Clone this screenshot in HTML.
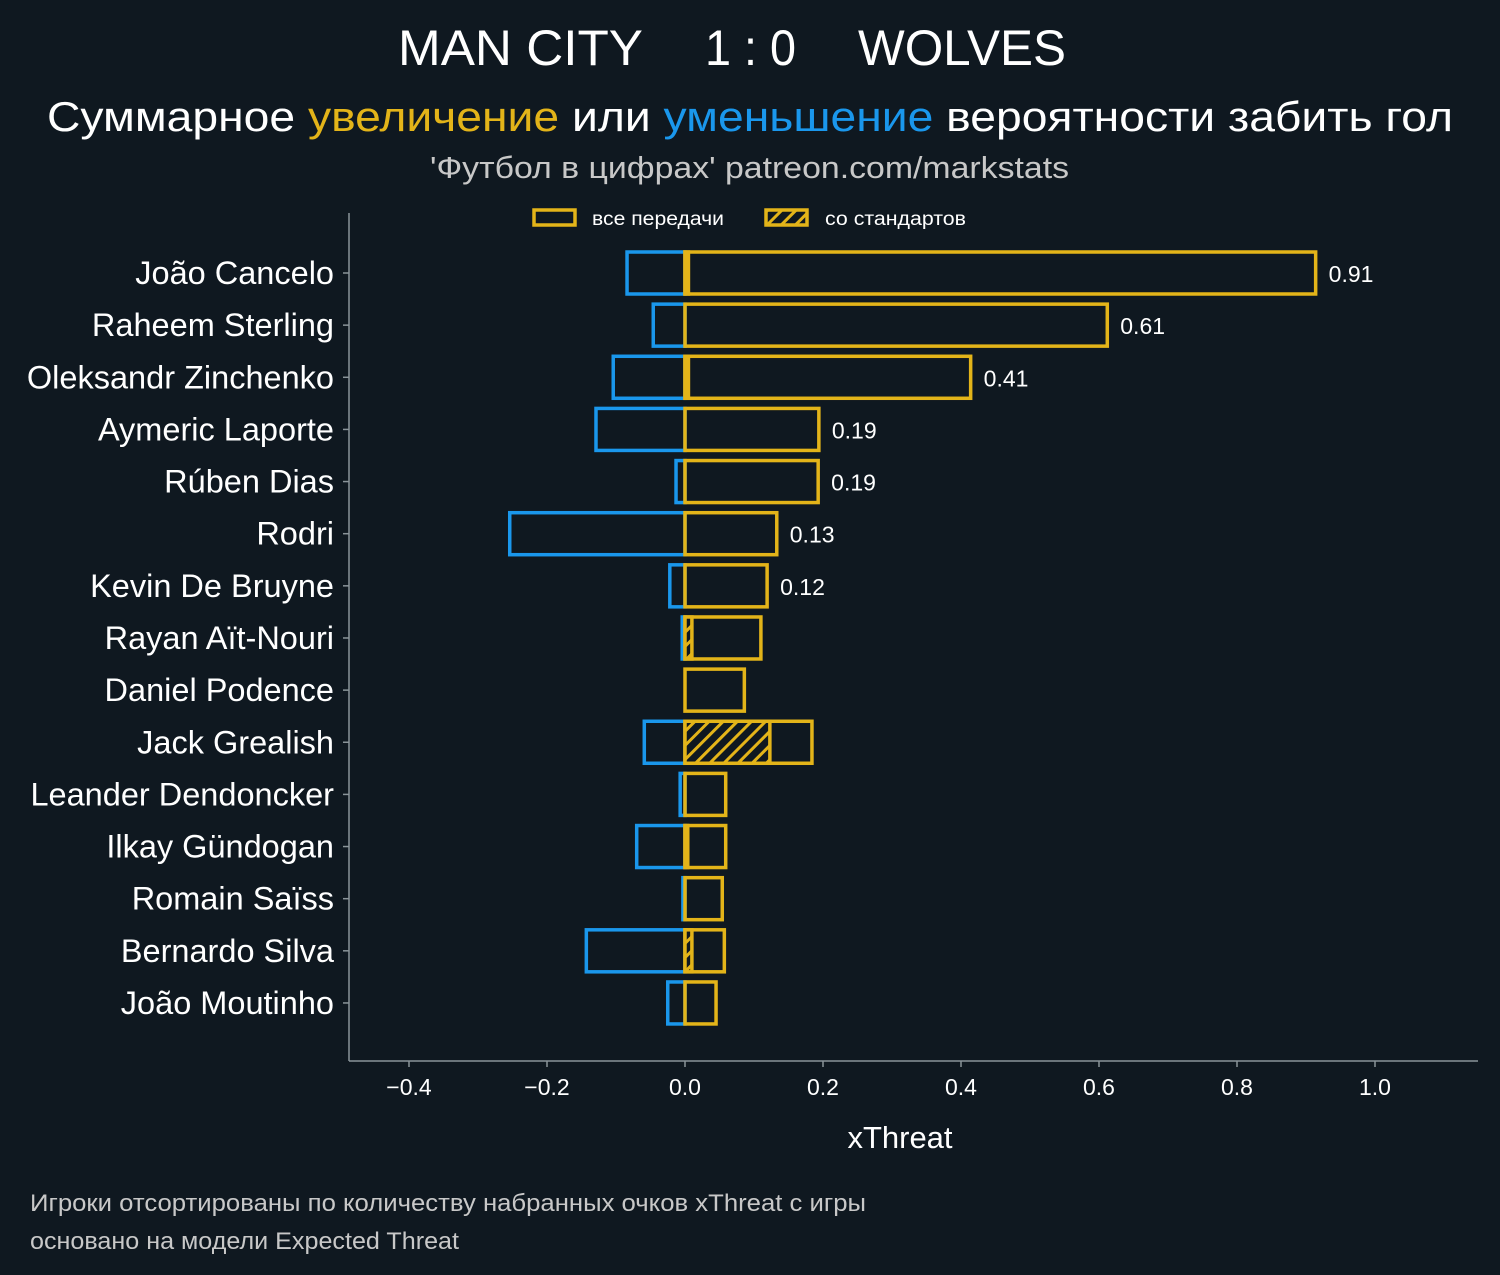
<!DOCTYPE html>
<html><head><meta charset="utf-8"><style>
body{margin:0;background:#0f1820;}
svg{display:block;font-family:"Liberation Sans","DejaVu Sans",sans-serif;}
</style></head><body>
<svg width="1500" height="1275" viewBox="0 0 1500 1275" xmlns="http://www.w3.org/2000/svg">
<defs><pattern id="hatch" width="10" height="10" patternUnits="userSpaceOnUse" patternTransform="rotate(45)"><rect width="10" height="10" fill="#0f1820"/><rect width="3" height="10" fill="#e3b419"/></pattern></defs>
<rect width="1500" height="1275" fill="#0f1820"/>
<g>
<text x="398" y="65" font-size="50" fill="#fff" textLength="245" lengthAdjust="spacingAndGlyphs">MAN CITY</text>
<text x="705" y="65" font-size="50" fill="#fff" textLength="91" lengthAdjust="spacingAndGlyphs">1 : 0</text>
<text x="858" y="65" font-size="50" fill="#fff" textLength="208" lengthAdjust="spacingAndGlyphs">WOLVES</text>
</g>
<text x="47" y="131" font-size="42" fill="#fff" textLength="1406" lengthAdjust="spacingAndGlyphs">Суммарное <tspan fill="#e3b419">увеличение</tspan> или <tspan fill="#1a97ec">уменьшение</tspan> вероятности забить гол</text>
<text x="430" y="178" font-size="31" fill="#c8c8c8" textLength="639" lengthAdjust="spacingAndGlyphs">'Футбол в цифрах' patreon.com/markstats</text>
<g>
<rect x="534" y="210" width="41" height="15" fill="none" stroke="#e3b419" stroke-width="3.5"/>
<text x="592" y="225" font-size="19" fill="#fff" textLength="132" lengthAdjust="spacingAndGlyphs">все передачи</text>
<rect x="766" y="210" width="41" height="15" fill="url(#hatch)" stroke="#e3b419" stroke-width="3.5"/>
<text x="825" y="225" font-size="19" fill="#fff" textLength="141" lengthAdjust="spacingAndGlyphs">со стандартов</text>
</g>
<g id="plot"></g>
<line x1="349" y1="213" x2="349" y2="1061" stroke="#8a9499" stroke-width="1.5"/>
<line x1="349" y1="1061" x2="1478" y2="1061" stroke="#8a9499" stroke-width="1.5"/>
<text x="900" y="1148" font-size="31" fill="#fff" text-anchor="middle">xThreat</text>
<text x="30" y="1211" font-size="24" fill="#c8c8c8" textLength="836" lengthAdjust="spacingAndGlyphs">Игроки отсортированы по количеству набранных очков xThreat с игры</text>
<text x="30" y="1249" font-size="24" fill="#c8c8c8" textLength="429" lengthAdjust="spacingAndGlyphs">основано на модели Expected Threat</text>
</svg>
<script>
const players=["João Cancelo","Raheem Sterling","Oleksandr Zinchenko","Aymeric Laporte","Rúben Dias","Rodri","Kevin De Bruyne","Rayan Aït-Nouri","Daniel Podence","Jack Grealish","Leander Dendoncker","Ilkay Gündogan","Romain Saïss","Bernardo Silva","João Moutinho"];
const positive=[0.914,0.612,0.414,0.194,0.193,0.133,0.119,0.110,0.086,0.184,0.059,0.059,0.054,0.057,0.045];
const negative=[-0.084,-0.046,-0.104,-0.129,-0.013,-0.254,-0.022,-0.004,0,-0.059,-0.007,-0.070,-0.003,-0.143,-0.025];
const setPieces=[0.005,0,0.005,0,0,0,0,0.010,0,0.123,0,0.004,0,0.010,0];
const labels=["0.91","0.61","0.41","0.19","0.19","0.13","0.12","","","","","","","",""];
const xTicks=[-0.4,-0.2,0,0.2,0.4,0.6,0.8,1.0];
const xTickLabels=["−0.4","−0.2","0.0","0.2","0.4","0.6","0.8","1.0"];
const NS="http://www.w3.org/2000/svg";
const g=document.getElementById('plot');
const X=v=>685+v*690;
const Y=i=>273+i*52.14;
const BH=42;
function mk(t,a){const e=document.createElementNS(NS,t);for(const k in a)e.setAttribute(k,a[k]);g.appendChild(e);return e;}
xTicks.forEach((t,i)=>{
 const l=mk('line',{x1:X(t),x2:X(t),y1:1061,y2:1067,stroke:'#8a9499','stroke-width':1.5});
 
 
 const tx=mk('text',{x:X(t),y:1095,'font-size':23,fill:'#fff','text-anchor':'middle'});
 tx.textContent=xTickLabels[i];
 
 
});
players.forEach((p,i)=>{
 const y=Y(i);
 const tk=mk('line',{x1:343,x2:349,y1:y,y2:y,stroke:'#8a9499','stroke-width':1.5});
 
 
 const t=mk('text',{x:334,y:y+11,'font-size':32.5,fill:'#fff','text-anchor':'end'});
 t.textContent=p;
 
 
 if(negative[i]<0){
  const r=mk('rect',{x:X(negative[i]),y:y-BH/2,width:X(0)-X(negative[i]),height:BH,fill:'none',stroke:'#1a97ec','stroke-width':3.5});
  
  
 }
 const r=mk('rect',{x:X(0),y:y-BH/2,width:X(positive[i])-X(0),height:BH,fill:'none',stroke:'#e3b419','stroke-width':3.5});
 
 
 if(setPieces[i]>0){
  const s=mk('rect',{x:X(0),y:y-BH/2,width:X(setPieces[i])-X(0),height:BH,fill:'url(#hatch)',stroke:'#e3b419','stroke-width':3.5});
  
  
 }
 if(labels[i]){
  const v=mk('text',{x:X(positive[i])+13,y:y+9,'font-size':23,fill:'#fff'});
  v.textContent=labels[i];
  
  
 }
});
</script>
</body></html>
